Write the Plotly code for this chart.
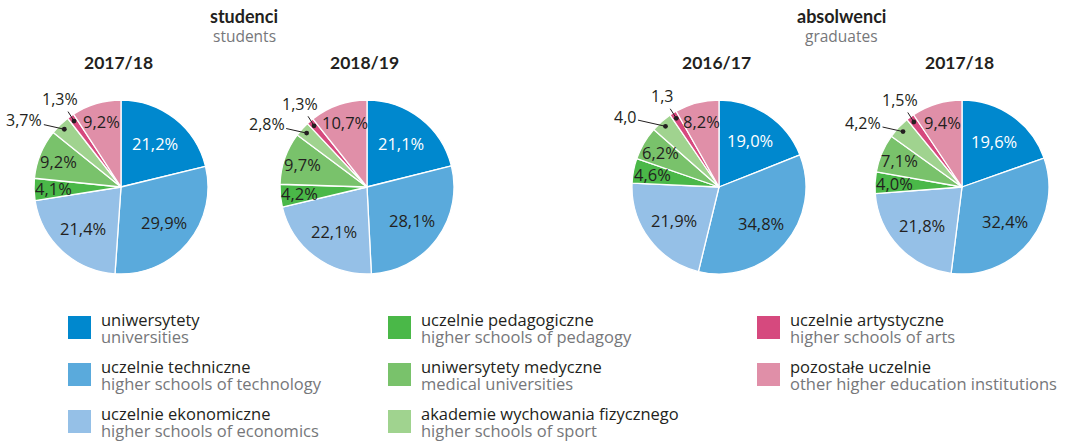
import math
import plotly.graph_objects as go

# ---------------- data ----------------
categories_pl = ["uniwersytety", "uczelnie techniczne", "uczelnie ekonomiczne",
                 "uczelnie pedagogiczne", "uniwersytety medyczne",
                 "akademie wychowania fizycznego", "uczelnie artystyczne",
                 "pozostałe uczelnie"]
categories_en = ["universities", "higher schools of technology",
                 "higher schools of economics", "higher schools of pedagogy",
                 "medical universities", "higher schools of sport",
                 "higher schools of arts", "other higher education institutions"]
colors = ["#0088CE", "#5AAADC", "#95C0E7", "#4AB848", "#79C26B", "#A0D38F",
          "#D6497E", "#E08FA8"]

group_titles = ["studenci", "absolwenci"]
group_subtitles = ["students", "graduates"]
pie_titles = ["2017/18", "2018/19", "2016/17", "2017/18"]

students_2017_18 = [21.2, 29.9, 21.4, 4.1, 9.2, 3.7, 1.3, 9.2]
students_2018_19 = [21.1, 28.1, 22.1, 4.2, 9.7, 2.8, 1.3, 10.7]
graduates_2016_17 = [19.0, 34.8, 21.9, 4.6, 6.2, 4.0, 1.3, 8.2]
graduates_2017_18 = [19.6, 32.4, 21.8, 4.0, 7.1, 4.2, 1.5, 9.4]
pie_values = [students_2017_18, students_2018_19, graduates_2016_17, graduates_2017_18]
outside_suffix = ["%", "%", "", "%"]

# ---------------- layout constants ----------------
W, H = 1067, 444
R = 87
centers = [(121, 187), (367, 187), (719, 187), (962, 187)]
DARK = "#231F20"
GRAY = "#76777A"
FONT = "'Open Sans', sans-serif"
TFONT = "Lato, 'Open Sans', sans-serif"


def px(x):
    return x / W


def py(y):
    return 1 - y / H


def fmt(v):
    return f"{v:.1f}".replace(".", ",")


def ann(x, y, text, size, color, xanchor="center", family=FONT, **kw):
    d = dict(x=px(x), y=py(y), xref="paper", yref="paper", text=text,
             xanchor=xanchor, yanchor="middle", showarrow=False,
             font=dict(family=family, size=size, color=color))
    d.update(kw)
    return d


fig = go.Figure()
annotations = []
shapes = []

for i, vals in enumerate(pie_values):
    cx, cy = centers[i]
    fig.add_trace(go.Pie(
        values=vals, labels=categories_pl, sort=False, direction="clockwise",
        rotation=0, textinfo="none", hoverinfo="label+value",
        marker=dict(colors=colors, line=dict(color="white", width=1.3)),
        domain=dict(x=[px(cx - R), px(cx + R)], y=[py(cy + R), py(cy - R)]),
        showlegend=False,
    ))
    cum = 0.0
    for j, v in enumerate(vals):
        theta = (cum + v / 2) / 100 * 2 * math.pi
        cum += v
        s, c = math.sin(theta), math.cos(theta)
        if j in (5, 6):
            f = 0.93
            x, y = cx + f * R * s, cy - f * R * c
            ax, ay = (-40, -9) if j == 5 else (-14, -22)
            annotations.append(ann(
                x, y, fmt(v) + outside_suffix[i], 16, DARK,
                showarrow=True, arrowhead=6, arrowsize=1.2, arrowwidth=1,
                arrowcolor=DARK, ax=ax, ay=ay, standoff=0))
        else:
            f = 0.64 if v >= 15 else 0.78
            x, y = cx + f * R * s, cy - f * R * c
            annotations.append(ann(x, y, fmt(v) + "%", 16.5,
                                   "white" if j == 0 else DARK))
    annotations.append(ann(cx - 3, 62, "<b>" + pie_titles[i] + "</b>", 17.5, DARK,
                           family=TFONT))

for g, gx in enumerate([244, 841]):
    annotations.append(ann(gx, 16, "<b>" + group_titles[g] + "</b>", 18, DARK,
                           family=TFONT))
    annotations.append(ann(gx, 36, group_subtitles[g], 15.5, GRAY))

# legend (3 columns)
col_x = [68, 388, 757]
row_y = [316, 363, 410]
for k in range(len(categories_pl)):
    col, row = k // 3, k % 3
    if col == 2:
        row = k - 6
    x0, y0 = col_x[col], row_y[row]
    shapes.append(dict(type="rect", xref="paper", yref="paper",
                       x0=px(x0), x1=px(x0 + 23), y0=py(y0), y1=py(y0 + 23),
                       fillcolor=colors[k], line=dict(width=0)))
    annotations.append(ann(x0 + 31, y0 + 3, categories_pl[k], 16.5, DARK, xanchor="left"))
    annotations.append(ann(x0 + 31, y0 + 20, categories_en[k], 16.5, GRAY, xanchor="left"))

fig.update_layout(
    width=W, height=H, margin=dict(l=0, r=0, t=0, b=0),
    paper_bgcolor="white", plot_bgcolor="white",
    annotations=annotations, shapes=shapes,
)

fig.write_html("out.html", config={"displayModeBar": False},
               post_script="document.body.style.margin='0';")
